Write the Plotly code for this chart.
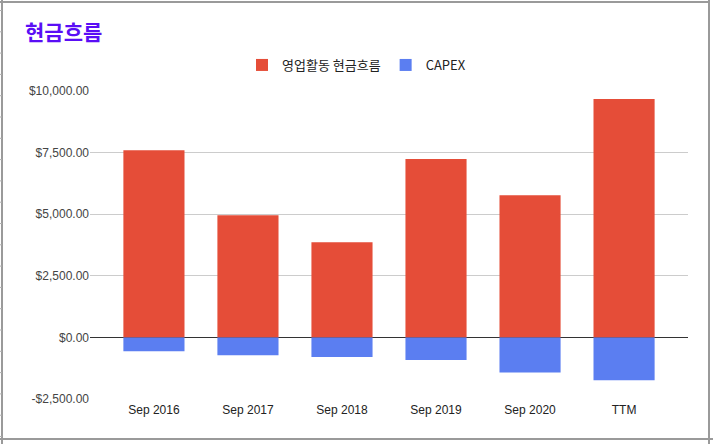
import plotly.graph_objects as go

categories = ["Sep 2016", "Sep 2017", "Sep 2018", "Sep 2019", "Sep 2020", "TTM"]
operating_cf = [7600, 4960, 3860, 7240, 5770, 9680]
capex = [-560, -720, -800, -920, -1420, -1740]
tick_values = [-2500, 0, 2500, 5000, 7500, 10000]


def money(v):
    return ("-$" if v < 0 else "$") + f"{abs(v):,.2f}"


tick_labels = [money(v) for v in tick_values]

W, H = 713, 444
L, R, T, B = 90, 688, 91, 399

FONT = "Arial, 'Liberation Sans', 'Noto Sans CJK KR', sans-serif"
KFONT = "'Noto Sans CJK KR', Arial, 'Liberation Sans', sans-serif"

fig = go.Figure()
fig.add_trace(go.Bar(x=categories, y=operating_cf, name="영업활동 현금흐름",
                     marker=dict(color="#e54d38", line=dict(width=0))))
fig.add_trace(go.Bar(x=categories, y=capex, name="CAPEX",
                     marker=dict(color="#5b7ef1", line=dict(width=0))))


def px_x(x):
    return (x - L) / (R - L)


def px_y(y):
    return (B - y) / (B - T)


shapes = []
border = dict(color="#9a9a9a", width=2)
# frame
shapes.append(dict(type="line", xref="paper", yref="paper", x0=px_x(0), x1=px_x(710),
                   y0=px_y(2), y1=px_y(2), line=border))
shapes.append(dict(type="line", xref="paper", yref="paper", x0=px_x(2), x1=px_x(2),
                   y0=px_y(0), y1=px_y(444), line=border))
shapes.append(dict(type="line", xref="paper", yref="paper", x0=px_x(709), x1=px_x(709),
                   y0=px_y(0), y1=px_y(444), line=border))
shapes.append(dict(type="line", xref="paper", yref="paper", x0=px_x(0), x1=px_x(713),
                   y0=px_y(439), y1=px_y(439), line=border))
# spreadsheet row marks on the left edge
yy = 10.5
while yy < 440:
    shapes.append(dict(type="line", xref="paper", yref="paper", x0=px_x(0), x1=px_x(2),
                       y0=px_y(yy), y1=px_y(yy), line=dict(color="#b0b0b0", width=1)))
    yy += 21.3

fig.update_layout(
    width=W, height=H,
    margin=dict(l=L, r=W - R, t=T, b=H - B, pad=0, autoexpand=False),
    paper_bgcolor="white", plot_bgcolor="white",
    barmode="relative", bargap=0.35,
    font=dict(family=FONT, size=12, color="#444444"),
    title=dict(text="<b>현금흐름</b>", x=25 / W, xanchor="left", xref="container",
               y=1 - 33 / H, yanchor="middle",
               font=dict(family=KFONT, size=21, color="#5a0ef5")),
    legend=dict(orientation="h", x=px_x(356.5), xanchor="center",
                y=px_y(65), yanchor="middle",
                font=dict(family=KFONT, size=13, color="#222222"),
                itemclick=False, traceorder="normal", bgcolor="rgba(0,0,0,0)"),
    xaxis=dict(range=[-0.68, 5.68], showgrid=False, showline=False, ticks="",
               tickangle=0, ticklabelstandoff=2,
               tickfont=dict(size=12, color="#222222"), fixedrange=True),
    yaxis=dict(range=[-2500, 10000], tickvals=tick_values, ticktext=tick_labels,
               showgrid=True, gridcolor="#cccccc", gridwidth=1,
               zeroline=True, zerolinecolor="#333333", zerolinewidth=1,
               ticks="", ticklen=0, tickfont=dict(size=12, color="#444444"), fixedrange=True),
    shapes=shapes,
    showlegend=True,
)

fig.write_html("out.html", config={"displayModeBar": False},
               post_script="document.body.style.margin='0';document.body.style.overflow='hidden';")
